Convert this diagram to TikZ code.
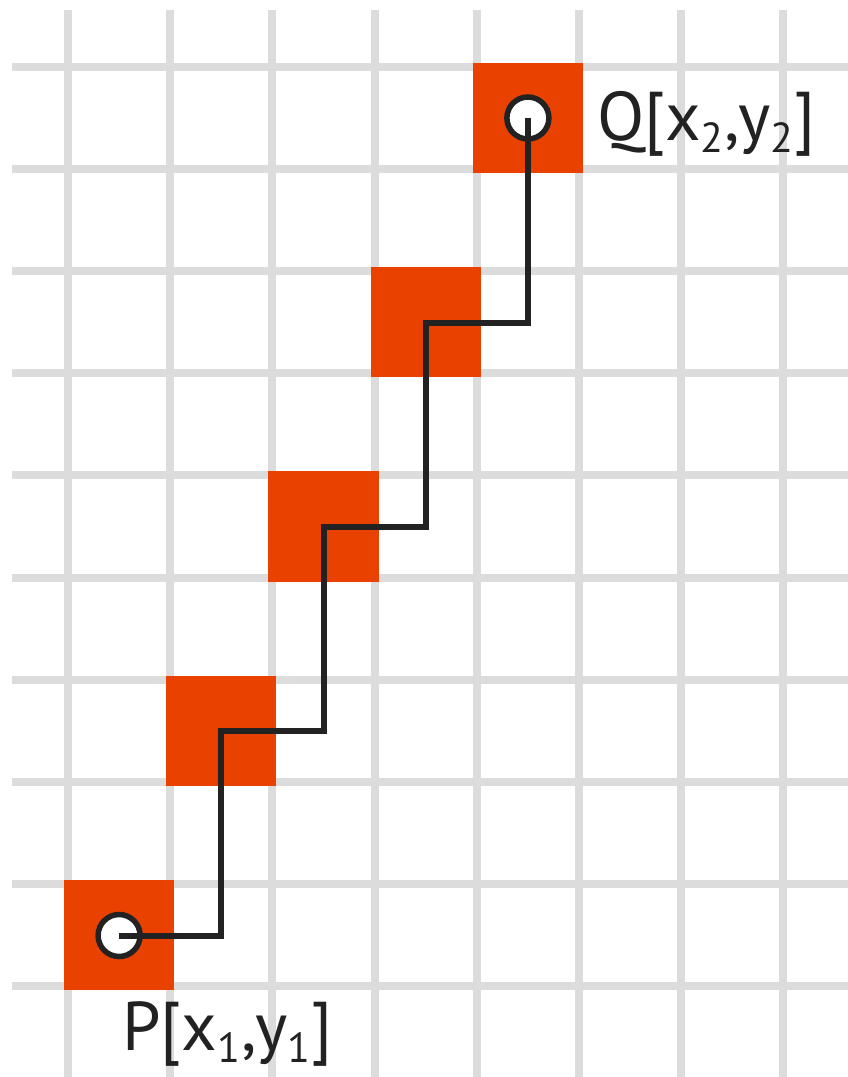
\documentclass[tikz,border=0pt]{standalone}
\usepackage{fontspec}
\setmainfont{PT Sans}
\definecolor{gridgray}{HTML}{DCDCDC}
\definecolor{cellred}{HTML}{E84100}
\definecolor{pathblack}{HTML}{222222}
\newcommand{\sbs}[1]{\raisebox{-12pt}{\fontsize{42}{42}\selectfont #1}\kern1pt}
\tikzset{
  gridline/.style={draw=gridgray, line width=8pt},
  cell/.style={fill=cellred},
  endpt/.style={circle, draw=pathblack, fill=white, line width=5.5pt, minimum size=42pt, inner sep=0pt},
  route/.style={draw=pathblack, line width=6pt, line join=miter},
  lbl/.style={inner sep=0pt, anchor=base west, text=pathblack, font=\fontsize{69}{69}\selectfont}
}
\begin{document}
\begin{tikzpicture}[x=1pt, y=-1pt]
\useasboundingbox (0,0) rectangle (848,1077);
\fill[white] (0,0) rectangle (848,1077);
% grid
\foreach \i in {0,...,7} {
  \draw[gridline] ({68+102.2*\i},10) -- ({68+102.2*\i},1077);
}
\foreach \j in {0,...,9} {
  \draw[gridline] (12,{67+102.1*\j}) -- (848,{67+102.1*\j});
}
% cells
\foreach \i/\j in {0/8, 1/6, 2/4, 3/2, 4/0} {
  \fill[cell] ({68+102.2*\i-4},{67+102.1*\j-4}) rectangle ({68+102.2*(\i+1)+4},{67+102.1*(\j+1)+4});
}
% end points
\node[endpt] (P) at (119.1,935.5) {};
\node[endpt] (Q) at (527.9,118.0) {};
% bend coordinates
\coordinate (b1) at (221.3,935.5);
\coordinate (b2) at (221.3,731.3);
\coordinate (b3) at (323.5,731.3);
\coordinate (b4) at (323.5,527.0);
\coordinate (b5) at (425.7,527.0);
\coordinate (b6) at (425.7,322.9);
\coordinate (b7) at (527.9,322.9);
\draw[route] (P.center) -- (b1) -- (b2) -- (b3) -- (b4) -- (b5) -- (b6) -- (b7) -- (Q.center);
% labels
\node[lbl] (Qlabel) at (597,140) {Q[x\sbs{2},y\sbs{2}]};
\node[lbl] (Plabel) at (122,1050) {P[x\sbs{1},y\sbs{1}]};
\end{tikzpicture}
\end{document}
